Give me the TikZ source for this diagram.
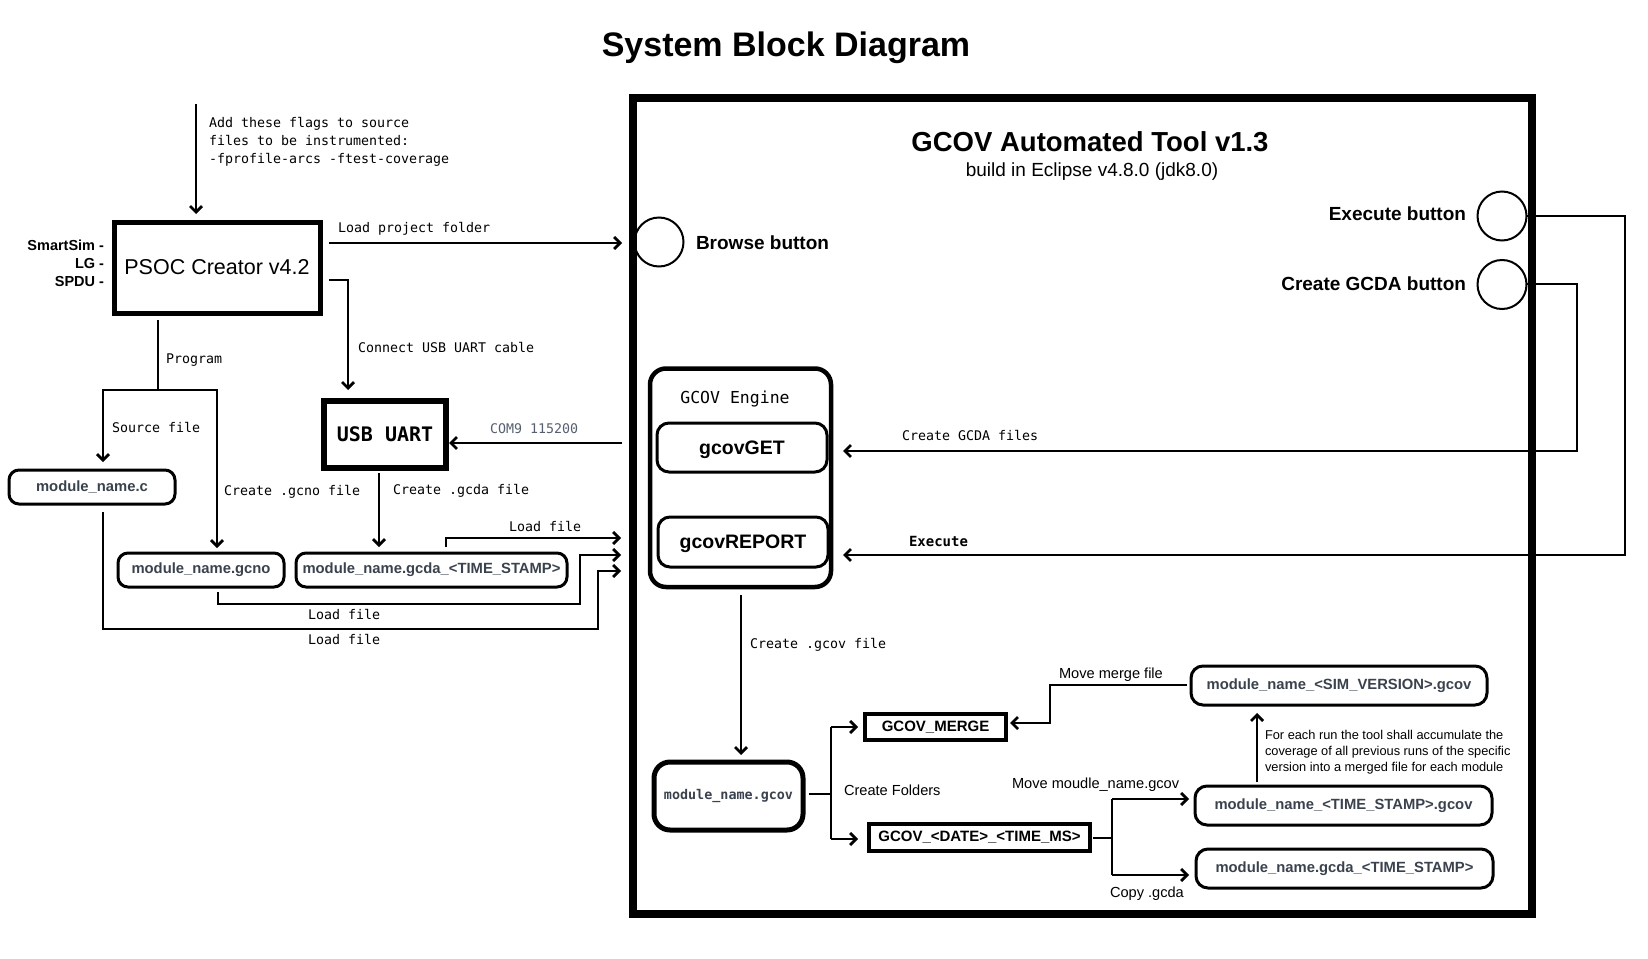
\documentclass[tikz,border=0pt]{standalone}
\usepackage{fontspec}
\setmainfont{Liberation Sans}
\newfontfamily\monof{DejaVu Sans Mono}
\usetikzlibrary{arrows.meta}
\definecolor{boxtxt}{RGB}{58,66,78}
\definecolor{comtxt}{RGB}{85,95,110}
\tikzset{
  conn/.style={line width=2.8pt},
  arr/.style={line width=2.8pt,-{Straight Barb[length=6pt,width=12pt]}},
  lbl/.style={inner sep=0pt, text depth=0pt, font=\monof\fontsize{13.3}{16}\selectfont},
  sanslbl/.style={inner sep=0pt, text depth=0pt, font=\fontsize{14.6}{17}\selectfont},
  filebox/.style={draw, line width=3pt, rounded corners=10pt, inner sep=0pt, text=boxtxt, font=\fontsize{14.8}{17}\selectfont\bfseries},
  folderbox/.style={draw, line width=3.5pt, inner sep=0pt, font=\fontsize{15}{18}\selectfont\bfseries},
  btn/.style={draw, circle, line width=2pt, minimum size=49pt, inner sep=0pt},
  btnlbl/.style={inner sep=0pt, font=\fontsize{19}{22}\selectfont\bfseries},
  engbox/.style={draw, line width=3pt, rounded corners=12pt, inner sep=0pt, text depth=0pt, font=\fontsize{19.5}{22}\selectfont\bfseries},
}
\begin{document}
\begin{tikzpicture}[x=1pt,y=-1pt, every node/.style={outer sep=0pt}]
\useasboundingbox (0,0) rectangle (1648,958);

% title
\node[inner sep=0pt, font=\fontsize{34}{40}\selectfont\bfseries] (title) at (786,48) {System Block Diagram};

% ---------- left part ----------
\node[draw, line width=5pt, minimum width=206pt, minimum height=91pt, inner sep=0pt, font=\fontsize{21.5}{26}\selectfont] (psoc) at (217,267.5) {PSOC Creator v4.2};
\node[inner sep=0pt, align=right, anchor=east, font=\fontsize{14.5}{18}\selectfont\bfseries] (variants) at (104,263) {SmartSim -\\LG -\\SPDU -};

\coordinate (flagtop) at (196,104);
\draw[arr] (flagtop) -- (196,214);
\node[inner sep=0pt, text depth=0pt, anchor=west, align=left, font=\monof\fontsize{13.3}{18}\selectfont] (flags) at (209,140) {Add these flags to source\\files to be instrumented:\\-fprofile-arcs -ftest-coverage};

% USB UART
\node[draw, line width=6pt, minimum width=122pt, minimum height=67pt, inner sep=0pt, font=\monof\fontsize{20}{24}\selectfont\bfseries] (usb) at (385,434.5) {USB UART};
\draw[arr] (329,280) -| (348,390);
\node[lbl, anchor=west] (lconnect) at (358,347) {Connect USB UART cable};

% files (left)
\node[filebox, minimum width=166pt, minimum height=34pt] (modc) at (92,487) {module\_name.c};
\node[filebox, minimum width=166pt, minimum height=34pt] (gcno) at (201,570) {module\_name.gcno};
\node[filebox, minimum width=271pt, minimum height=34pt] (gcdaL) at (431.5,570) {module\_name.gcda\_<TIME\_STAMP>};

% Program
\draw[conn] (158,320) -- (158,390);
\draw[arr] (158,390) -| (103,462);
\draw[arr] (158,390) -| (217,548);
\node[lbl, anchor=west] (lprog) at (166,359) {Program};
\node[lbl, anchor=west] (lsrc) at (112,427) {Source file};
\node[lbl, anchor=west] (lgcno) at (224,490) {Create .gcno file};

% create gcda
\draw[arr] (379,473) -- (379,547);
\node[lbl, anchor=west] (lgcda) at (393,489) {Create .gcda file};

% load files
\draw[arr] (446,547) -- (446,538) -- (621,538);
\node[lbl, anchor=west] (lload1) at (509,526) {Load file};
\draw[arr] (218,592) -- (218,604) -- (580,604) -- (580,555) -- (621,555);
\node[lbl, anchor=west] (lload2) at (308,614) {Load file};
\draw[arr] (103,512) -- (103,629) -- (598,629) -- (598,571) -- (621,571);
\node[lbl, anchor=west] (lload3) at (308,639) {Load file};

% ---------- GCOV tool ----------
\node[draw, line width=8pt, minimum width=899pt, minimum height=816pt, inner sep=0pt] (tool) at (1082.5,505.5) {};
\node[inner sep=0pt, font=\fontsize{27.5}{32}\selectfont\bfseries] (tooltitle) at (1090,142) {GCOV Automated Tool v1.3};
\node[inner sep=0pt, font=\fontsize{19}{22}\selectfont] (toolsub) at (1092,172) {build in Eclipse v4.8.0 (jdk8.0)};

% browse button
\node[btn] (browse) at (659,242) {};
\node[btnlbl, anchor=west] (browselbl) at (696,243) {Browse button};
\draw[arr] (329,243) -- (622,243);
\node[lbl, anchor=west] (lproj) at (338,227) {Load project folder};

% COM9
\draw[arr] (622,443) -- (449,443);
\node[lbl, anchor=west, text=comtxt] (lcom) at (490,429) {COM9 115200};

% buttons right
\node[btn] (exec) at (1502,216) {};
\node[btnlbl, anchor=east] (execlbl) at (1466,214) {Execute button};
\node[btn] (cgcda) at (1502,284.5) {};
\node[btnlbl, anchor=east] (cgcdalbl) at (1466,284) {Create GCDA button};

% engine
\node[draw, line width=4.5pt, rounded corners=16pt, minimum width=181pt, minimum height=218.5pt, inner sep=0pt] (engine) at (740.5,477.75) {};
\node[inner sep=0pt, text depth=0pt, font=\monof\fontsize{16.5}{20}\selectfont] (englbl) at (735,397) {GCOV Engine};
\node[engbox, minimum width=170pt, minimum height=49pt] (get) at (742,447.5) {gcovGET};
\node[engbox, minimum width=170pt, minimum height=50pt] (report) at (743,542) {gcovREPORT};

\draw[arr] (1527,284) -- (1577,284) -- (1577,451) -- (843,451);
\node[lbl, anchor=west] (lcgf) at (902,435) {Create GCDA files};
\draw[arr] (1527,216) -- (1625,216) -- (1625,555) -- (843,555);
\node[inner sep=0pt, anchor=west, font=\monof\fontsize{14}{16}\selectfont\bfseries] (lexec) at (909,541) {Execute};

% gcov
\draw[arr] (741,595) -- (741,755);
\node[lbl, anchor=west] (lgcov) at (750,643) {Create .gcov file};
\node[draw, line width=5pt, rounded corners=16pt, minimum width=149pt, minimum height=68pt, inner sep=0pt, text=boxtxt, font=\monof\fontsize{13.4}{16}\selectfont\bfseries] (gcov) at (728.5,796) {module\_name.gcov};

\draw[conn] (809,794) -- (831,794);
\draw[conn] (831,727) -- (831,839);
\draw[arr] (831,727) -- (858,727);
\draw[arr] (831,839) -- (858,839);
\node[sanslbl, anchor=west] (lfold) at (844,790) {Create Folders};

\node[folderbox, minimum width=141pt, minimum height=26pt] (merge) at (935.5,727) {GCOV\_MERGE};
\node[folderbox, minimum width=221pt, minimum height=27pt] (datef) at (979.5,837.5) {GCOV\_<DATE>\_<TIME\_MS>};

% right file boxes
\node[filebox, minimum width=296pt, minimum height=39pt, rounded corners=12pt] (simv) at (1339,685.5) {module\_name\_<SIM\_VERSION>.gcov};
\node[filebox, minimum width=297pt, minimum height=39pt, rounded corners=12pt] (tsgcov) at (1343.5,805.5) {module\_name\_<TIME\_STAMP>.gcov};
\node[filebox, minimum width=297pt, minimum height=39pt, rounded corners=12pt] (tsgcda) at (1344.5,868.5) {module\_name.gcda\_<TIME\_STAMP>};

\draw[arr] (1187,685) -- (1050,685) -- (1050,723) -- (1010,723);
\node[sanslbl, anchor=west] (lmerge) at (1059,673) {Move merge file};

\draw[conn] (1093,838) -- (1112,838);
\draw[conn] (1112,799) -- (1112,875);
\draw[arr] (1112,799) -- (1189,799);
\draw[arr] (1112,875) -- (1189,875);
\node[sanslbl, anchor=west] (lmove) at (1012,783) {Move moudle\_name.gcov};
\node[sanslbl, anchor=west] (lcopy) at (1110,892) {Copy .gcda};

\draw[arr] (1257,782) -- (1257,713);
\node[inner sep=0pt, text depth=0pt, anchor=west, align=left, font=\fontsize{12.8}{16.3}\selectfont] (lacc) at (1265,751) {For each run the tool shall accumulate the\\coverage of all previous runs of the specific\\version into a merged file for each module};
\end{tikzpicture}
\end{document}
